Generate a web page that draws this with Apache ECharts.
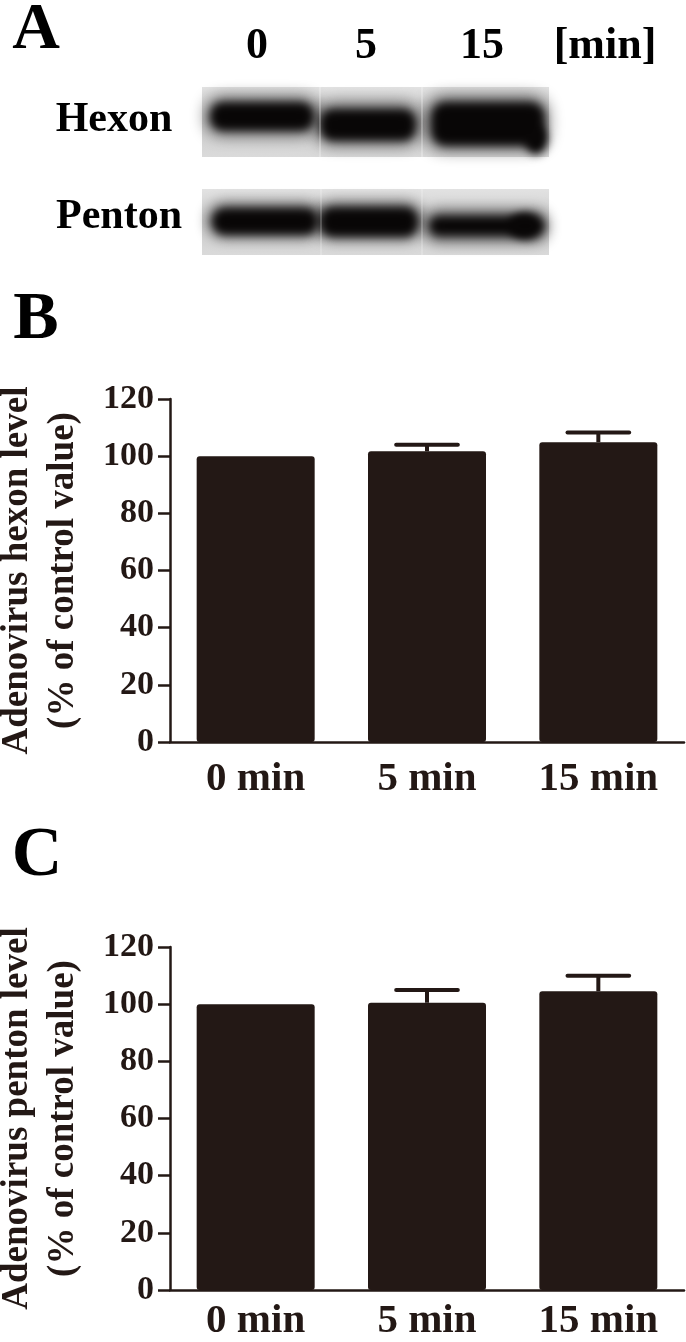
<!DOCTYPE html>
<html>
<head>
<meta charset="utf-8">
<script src="https://cdn.jsdelivr.net/npm/echarts@6/dist/echarts.min.js"></script>
<style>
  html, body { margin: 0; padding: 0; background: #fff; }
  #chart { width: 686px; height: 1342px; }
</style>
</head>
<body>
<div id="chart"></div>
<script>
// data
const times = ['0 min', '5 min', '15 min'];
const laneLabels = ['0', '5', '15'];
const hexonMean = [100, 101.7, 104.9];
const hexonErr = [0, 2.3, 3.4];
const pentonMean = [100, 100.5, 104.5];
const pentonErr = [0, 4.5, 5.4];

const ink = '#231815';
const serif = '"Liberation Serif", "Times New Roman", serif';

const chart = echarts.init(document.getElementById('chart'));

function errBar(params, api) {
  const err = api.value(2);
  if (!err) return null;
  const base = api.coord([api.value(0), api.value(1)]);
  const top = api.coord([api.value(0), api.value(1) + err]);
  const half = api.size([1, 0])[0] * 0.18;
  return {
    type: 'group',
    children: [
      { type: 'line', shape: { x1: base[0], y1: base[1], x2: top[0], y2: top[1] },
        style: { stroke: ink, lineWidth: 4 } },
      { type: 'line', shape: { x1: top[0] - half, y1: top[1], x2: top[0] + half, y2: top[1] },
        style: { stroke: ink, lineWidth: 4, lineCap: 'round' } },
    ],
  };
}

function yAxis(gridIndex, name) {
  return {
    gridIndex,
    type: 'value',
    min: 0,
    max: 120,
    interval: 20,
    name,
    nameLocation: 'middle',
    nameGap: 84,
    nameTextStyle: { color: ink, fontFamily: serif, fontWeight: 'bold', fontSize: 37, lineHeight: 46 },
    axisLine: { show: true, lineStyle: { color: ink, width: 2.5 } },
    axisTick: { show: true, length: 12, lineStyle: { color: ink, width: 2.5 } },
    axisLabel: { color: ink, fontFamily: serif, fontWeight: 'bold', fontSize: 34, margin: 16 },
    splitLine: { show: false },
  };
}

function xAxis(gridIndex, margin) {
  return {
    gridIndex,
    type: 'category',
    data: times,
    axisLine: { lineStyle: { color: ink, width: 2.5 } },
    axisTick: { show: false },
    axisLabel: { color: ink, fontFamily: serif, fontWeight: 'bold', fontSize: 41, margin },
  };
}

const toErr = (mean, err) => mean.map((m, i) => [i, m, err[i]]);

// western blot strips for panel A (a picture, drawn as soft blurred shapes:
// the shapes sit 2000px off to the left and only their shadow lands on the strip)
const OFF = 2000;
function soft(type, shape, blur, alpha) {
  const s = Object.assign({}, shape);
  if ('x' in s) s.x -= OFF; else s.cx -= OFF;
  return {
    type, shape: s,
    style: { fill: '#000', shadowBlur: blur, shadowColor: `rgba(8,6,6,${alpha})`, shadowOffsetX: OFF },
  };
}
function strip(y, h) {
  return {
    type: 'rect', shape: { x: 202, y, width: 347, height: h },
    style: {
      fill: new echarts.graphic.LinearGradient(0, 0, 0, 1, [
        { offset: 0, color: '#e2e2e2' },
        { offset: 0.5, color: '#cdcdcd' },
        { offset: 1, color: '#dadada' },
      ]),
    },
  };
}
function txt(text, x, y, size, align) {
  return {
    type: 'text', x, y,
    style: { text, fill: '#000', font: `bold ${size}px ${serif}`, textAlign: align || 'center', textVerticalAlign: 'middle' },
  };
}

const blotShapes = [
  // hexon halo + cores
  soft('rect', { x: 206, y: 97, width: 112, height: 38, r: 16 }, 16, 0.6),
  soft('rect', { x: 316, y: 103, width: 104, height: 42, r: 16 }, 16, 0.6),
  soft('rect', { x: 426, y: 96, width: 122, height: 54, r: 18 }, 16, 0.6),
  soft('rect', { x: 211, y: 103, width: 102, height: 27, r: 12 }, 8, 1),
  soft('rect', { x: 321, y: 110, width: 94, height: 30, r: 12 }, 8, 1),
  soft('rect', { x: 432, y: 103, width: 112, height: 42, r: 14 }, 8, 1),
  soft('ellipse', { cx: 536, cy: 140, rx: 11, ry: 14 }, 8, 1),
  // penton halo + cores
  soft('rect', { x: 208, y: 203, width: 114, height: 35, r: 16 }, 14, 0.6),
  soft('rect', { x: 316, y: 202, width: 106, height: 38, r: 16 }, 14, 0.6),
  soft('rect', { x: 424, y: 210, width: 124, height: 32, r: 14 }, 14, 0.6),
  soft('rect', { x: 213, y: 209, width: 104, height: 25, r: 12 }, 8, 1),
  soft('rect', { x: 321, y: 208, width: 96, height: 28, r: 12 }, 8, 1),
  soft('rect', { x: 430, y: 217, width: 104, height: 18, r: 9 }, 8, 1),
  soft('ellipse', { cx: 526, cy: 226, rx: 18, ry: 13 }, 8, 1),
];

const graphic = [
  txt('A', 36, 31, 66),
  txt('B', 36, 320, 68),
  txt('C', 37, 857, 70),
  txt(laneLabels[0], 257, 47, 44),
  txt(laneLabels[1], 366, 47, 44),
  txt(laneLabels[2], 482, 47, 44),
  txt('[min]', 605, 47, 44),
  txt('Hexon', 114, 120, 42),
  txt('Penton', 119, 217, 42),
  strip(87, 70),
  strip(189, 66),
  {
    type: 'group',
    clipPath: { type: 'rect', shape: { x: -OFF - 10, y: 0, width: OFF + 700, height: 270 } },
    children: blotShapes,
  },
  // faint lane seams
  { type: 'rect', shape: { x: 319, y: 87, width: 2, height: 70 }, style: { fill: 'rgba(255,255,255,0.25)' } },
  { type: 'rect', shape: { x: 421, y: 87, width: 2, height: 70 }, style: { fill: 'rgba(255,255,255,0.25)' } },
  { type: 'rect', shape: { x: 320, y: 189, width: 2, height: 66 }, style: { fill: 'rgba(255,255,255,0.2)' } },
  { type: 'rect', shape: { x: 421, y: 189, width: 2, height: 66 }, style: { fill: 'rgba(255,255,255,0.2)' } },
];

chart.setOption({
  animation: false,
  backgroundColor: '#fff',
  graphic,
  grid: [
    { left: 170, right: 2, top: 399, height: 343, containLabel: false, outerBoundsMode: 'none' },
    { left: 170, right: 2, top: 947, height: 343, containLabel: false, outerBoundsMode: 'none' },
  ],
  xAxis: [xAxis(0, 17), xAxis(1, 11)],
  yAxis: [
    yAxis(0, 'Adenovirus hexon level\n(% of control value)'),
    yAxis(1, 'Adenovirus penton level\n(% of control value)'),
  ],
  series: [
    {
      type: 'bar', xAxisIndex: 0, yAxisIndex: 0, data: hexonMean, barWidth: 118,
      itemStyle: { color: ink, borderRadius: 3 },
    },
    {
      type: 'custom', xAxisIndex: 0, yAxisIndex: 0, renderItem: errBar,
      data: toErr(hexonMean, hexonErr), encode: { x: 0, y: 1 }, z: 3,
    },
    {
      type: 'bar', xAxisIndex: 1, yAxisIndex: 1, data: pentonMean, barWidth: 118,
      itemStyle: { color: ink, borderRadius: 3 },
    },
    {
      type: 'custom', xAxisIndex: 1, yAxisIndex: 1, renderItem: errBar,
      data: toErr(pentonMean, pentonErr), encode: { x: 0, y: 1 }, z: 3,
    },
  ],
});
</script>
</body>
</html>
